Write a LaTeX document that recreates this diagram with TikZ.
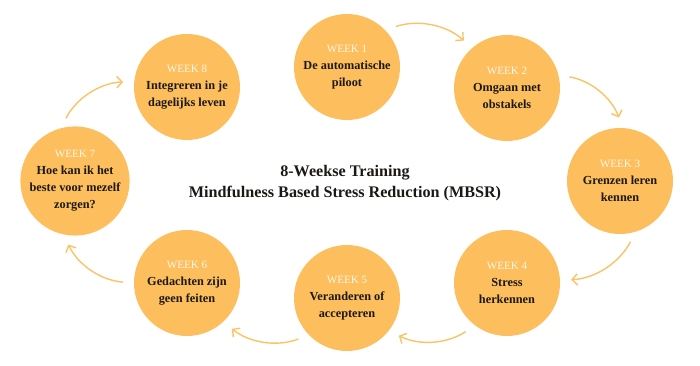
\documentclass[tikz,border=0pt]{standalone}
\usepackage{fontspec}
\setmainfont{Liberation Serif}
\usetikzlibrary{arrows.meta}
\definecolor{mbsrOrange}{RGB}{253, 191, 94}
\definecolor{mbsrArrow}{RGB}{251, 195, 104}
\definecolor{mbsrCream}{RGB}{255, 246, 230}
\definecolor{mbsrInk}{RGB}{28, 24, 20}
\newcommand{\weeklabel}[1]{{\fontsize{9.5}{14.5}\selectfont\mdseries\color{mbsrCream}WEEK #1}}

\begin{document}
\begin{tikzpicture}[
  week/.style={circle, fill=mbsrOrange, minimum size=3.18cm, inner sep=0pt,
               align=center, text=mbsrInk,
               font=\fontsize{10.5}{14.5}\selectfont\bfseries},
  arrow/.style={-{Straight Barb[length=1.6mm,width=3.4mm]}, draw=mbsrArrow,
                line width=1.2pt, shorten <=0.33cm, shorten >=0.33cm}
]
\useasboundingbox (0,0) rectangle (21,10.98);
\node[week] (piloot) at (10.41,8.97) {\weeklabel{1}\\De automatische\\piloot};
\node[week] (obstakels) at (15.21,8.34) {\weeklabel{2}\\Omgaan met\\obstakels};
\node[week] (grenzen) at (18.60,5.55) {\weeklabel{3}\\Grenzen leren\\kennen};
\node[week] (stress) at (15.21,2.49) {\weeklabel{4}\\Stress\\herkennen};
\node[week] (accepteren) at (10.41,2.04) {\weeklabel{5}\\Veranderen of\\accepteren};
\node[week] (gedachten) at (5.61,2.49) {\weeklabel{6}\\Gedachten zijn\\geen feiten};
\node[week] (zorgen) at (2.25,5.55) {\weeklabel{7}\\Hoe kan ik het\\beste voor mezelf\\zorgen?};
\node[week] (integreren) at (5.61,8.37) {\weeklabel{8}\\Integreren in je\\dagelijks leven};
\node[font=\fontsize{13.8}{18}\selectfont\bfseries, text=mbsrInk, align=center] (titel)
  at (10.35,5.5) {8-Weekse Training\\Mindfulness Based Stress Reduction (MBSR)};
\draw[arrow] (piloot.44) to[bend left=30] (obstakels.131);
\draw[arrow] (obstakels.14) to[bend left=30] (grenzen.87);
\draw[arrow] (grenzen.-73) to[bend left=30] (stress.3);
\draw[arrow] (stress.-127) to[bend left=30] (accepteren.-38);
\draw[arrow] (accepteren.-136) to[bend left=30] (gedachten.-47);
\draw[arrow] (gedachten.180) to[bend left=30] (zorgen.-102);
\draw[arrow] (zorgen.105) to[bend left=30] (integreren.174);
\end{tikzpicture}
\end{document}
